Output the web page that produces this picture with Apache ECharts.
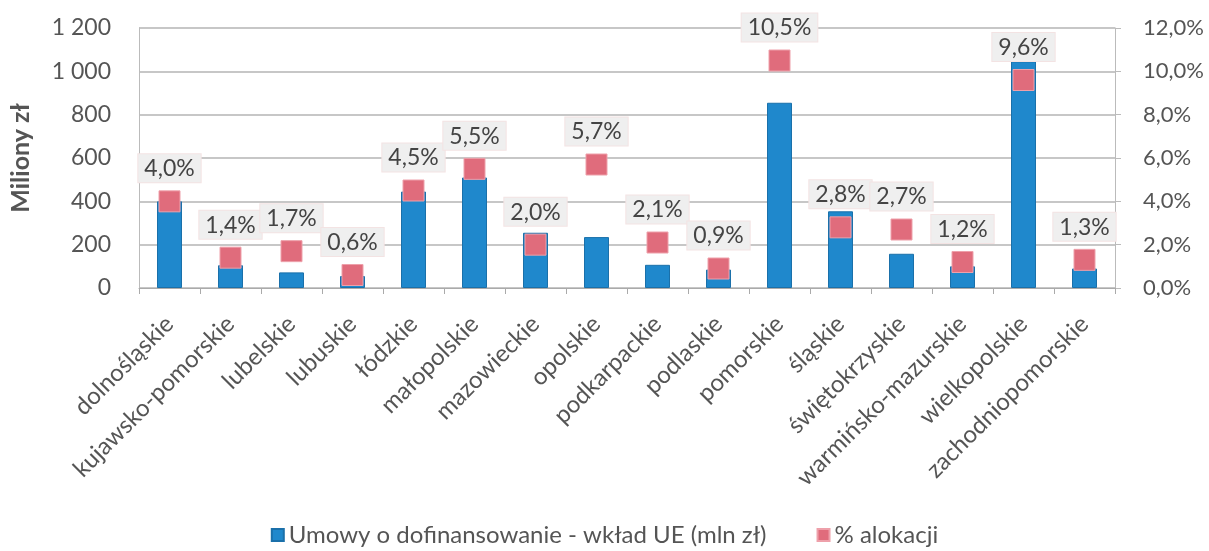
<!DOCTYPE html>
<html><head><meta charset="utf-8">
<script src="https://cdn.jsdelivr.net/npm/echarts@6/dist/echarts.min.js"></script>
<style>html,body{margin:0;padding:0;background:#fff}#c{width:1209px;height:551px}</style>
</head><body><div id="c"></div>
<script>
const categories = ["dolnośląskie","kujawsko-pomorskie","lubelskie","lubuskie","łódzkie","małopolskie","mazowieckie","opolskie","podkarpackie","podlaskie","pomorskie","śląskie","świętokrzyskie","warmińsko-mazurskie","wielkopolskie","zachodniopomorskie"];
const contracts = [400,105,72,55,445,510,255,235,107,85,855,354,158,100,1046,90];
const allocation = [4.0,1.4,1.7,0.6,4.5,5.5,2.0,5.7,2.1,0.9,10.5,2.8,2.7,1.2,9.6,1.3];
const seriesNames = ["Umowy o dofinansowanie - wkład UE (mln zł)","% alokacji"];
const leftAxisName = "Miliony zł";

const FONT = "Lato";
const chart = echarts.init(document.getElementById('c'));
function fmtThousands(v){ return String(v).replace(/\B(?=(\d{3})+(?!\d))/g,' '); }
chart.setOption({
  animation:false,
  textStyle:{fontFamily:FONT},
  grid:{left:128,right:94,top:28,bottom:263},
  legend:{
    bottom:-1, left:'center', itemWidth:12, itemHeight:12, itemGap:50,
    textStyle:{fontFamily:FONT,fontSize:24,color:'#555'},
    data:[{name:seriesNames[0],icon:'rect'},{name:seriesNames[1],icon:'rect'}]
  },
  xAxis:{
    type:'category', data:categories,
    axisLine:{lineStyle:{color:'#aaa'}},
    axisTick:{show:true,alignWithLabel:false,length:6,lineStyle:{color:'#aaa'}},
    axisLabel:{rotate:45,interval:0,fontSize:24,color:'#555',fontFamily:FONT,margin:32}
  },
  yAxis:[{
    type:'value', min:0, max:1200, interval:200,
    name:leftAxisName, nameLocation:'middle', nameRotate:90, nameGap:106,
    nameTextStyle:{fontSize:25,fontWeight:'bold',color:'#555',fontFamily:FONT},
    axisLine:{show:true,lineStyle:{color:'#bbb'}},
    axisTick:{show:false},
    axisLabel:{fontSize:23,color:'#555',fontFamily:FONT,margin:28,formatter:fmtThousands},
    splitLine:{lineStyle:{color:'#b5b5b5',width:1.5}}
  },{
    type:'value', min:0, max:12, interval:2,
    axisLine:{show:true,lineStyle:{color:'#bbb'}},
    axisTick:{show:true,length:6,lineStyle:{color:'#bbb'}},
    axisLabel:{fontSize:22,color:'#555',fontFamily:FONT,margin:28,formatter:v=>v.toFixed(1).replace('.',',')+'%'},
    splitLine:{show:false}
  }],
  series:[{
    name:seriesNames[0], type:'bar', yAxisIndex:0, data:contracts, barWidth:25,
    itemStyle:{color:'#1f88cc',borderColor:'#1a70aa',borderWidth:1}
  },{
    name:seriesNames[1], type:'scatter', yAxisIndex:1, data:allocation,
    symbol:'rect', symbolSize:21, z:5,
    itemStyle:{color:'#e06c7c',borderColor:'#eea0aa',borderWidth:1,opacity:1},
    label:{show:true,position:'top',distance:8,fontSize:23,color:'#444',fontFamily:FONT,
      backgroundColor:'#efefef',borderColor:'#f3e3e3',borderWidth:1,padding:[3,6,2,6],
      formatter:p=>p.value.toFixed(1).replace('.',',')+'%'}
  }]
});
</script></body></html>
